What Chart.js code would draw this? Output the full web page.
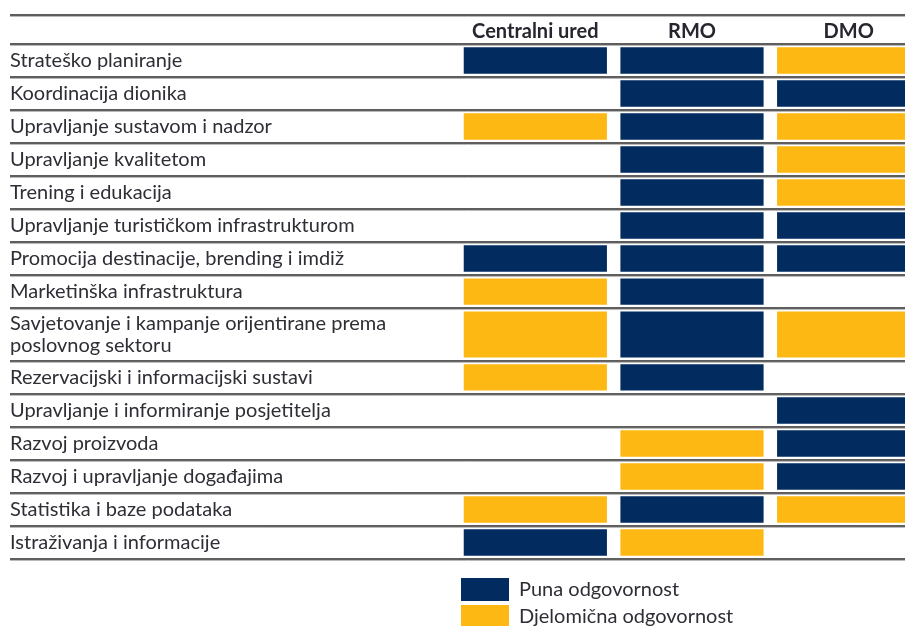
<!DOCTYPE html>
<html>
<head>
<meta charset="utf-8">
<script src="https://cdn.jsdelivr.net/npm/chart.js@4"></script>
<style>
  body { margin: 0; overflow: hidden; background: #fff; }
  #wrap { width: 927px; height: 638px; }
</style>
</head>
<body>
<div id="wrap"><canvas id="graf"></canvas></div>
<script>
// P = puna odgovornost, D = djelomicna odgovornost, null = nista
const columns = ['Centralni ured', 'RMO', 'DMO'];
const activities = [
    'Strateško planiranje',
    'Koordinacija dionika',
    'Upravljanje sustavom i nadzor',
    'Upravljanje kvalitetom',
    'Trening i edukacija',
    'Upravljanje turističkom infrastrukturom',
    'Promocija destinacije, brending i imdiž',
    'Marketinška infrastruktura',
    ['Savjetovanje i kampanje orijentirane prema', 'poslovnog sektoru'],
    'Rezervacijski i informacijski sustavi',
    'Upravljanje i informiranje posjetitelja',
    'Razvoj proizvoda',
    'Razvoj i upravljanje događajima',
    'Statistika i baze podataka',
    'Istraživanja i informacije'
];
const centralni = ['P', null, 'D', null, null, null, 'P', 'D', 'D', 'D', null, null, null, 'D', 'P'];
const rmo       = ['P', 'P', 'P', 'P', 'P', 'P', 'P', 'P', 'P', 'P', null, 'D', 'D', 'P', 'D'];
const dmo       = ['D', 'P', 'D', 'D', 'D', 'P', 'P', null, 'D', null, 'P', 'P', 'P', 'D', null];
const legendNames = { P: 'Puna odgovornost', D: 'Djelomična odgovornost' };

const navy = '#022b5f';
const yellow = '#fdb813';
const textColor = '#2e2e36';
const gap = 0.1;        // razmak celije od linije
const tailSpace = 0.455; // prostor do legende

// granice redova (dvoredni naziv = visi red)
const bounds = [0];
activities.forEach(function (a) {
    bounds.push(bounds[bounds.length - 1] + (Array.isArray(a) ? 1.6 : 1));
});
const total = bounds[bounds.length - 1];

function cells(type) {
    const out = [];
    [centralni, rmo, dmo].forEach(function (col, c) {
        col.forEach(function (v, i) {
            if (v === type) out.push({ x: columns[c], y: [bounds[i] + gap, bounds[i + 1] - gap] });
        });
    });
    return out;
}

const rowLines = {
    id: 'rowLines',
    beforeDatasetsDraw(chart) {
        const ctx = chart.ctx;
        const y = chart.scales.y;
        const ys = [chart.scales.x.top - 5].concat(bounds.map(function (b) { return y.getPixelForValue(b); }));
        ctx.save();
        ys.forEach(function (p) {
            ctx.beginPath();
            ctx.lineWidth = 2;
            ctx.strokeStyle = '#5e5e5e';
            ctx.moveTo(10, p);
            ctx.lineTo(chart.width, p);
            ctx.stroke();
            ctx.beginPath();
            ctx.lineWidth = 1;
            ctx.strokeStyle = '#b8b8b8';
            ctx.moveTo(10, p + 1.5);
            ctx.lineTo(chart.width, p + 1.5);
            ctx.stroke();
        });
        ctx.restore();
    }
};

new Chart(document.getElementById('graf'), {
    type: 'bar',
    data: {
        labels: columns,
        datasets: [{
            label: legendNames.P,
            data: cells('P'),
            backgroundColor: navy
        }, {
            label: legendNames.D,
            data: cells('D'),
            backgroundColor: yellow
        }]
    },
    options: {
        responsive: true,
        maintainAspectRatio: false,
        animation: false,
        grouped: false,
        barPercentage: 0.914,
        categoryPercentage: 1,
        layout: { padding: { top: 20, left: 10, right: 0, bottom: 0 } },
        scales: {
            x: {
                type: 'category',
                position: 'top',
                grid: { display: false, drawTicks: false },
                border: { display: false },
                ticks: {
                    padding: 0,
                    color: '#26262e',
                    font: { family: 'Lato', size: 20, weight: 'bold' }
                },
                afterFit: function (s) { s.height = 24; }
            },
            y: {
                type: 'linear',
                reverse: true,
                min: 0,
                max: total + tailSpace,
                grid: { display: false, drawTicks: false },
                border: { display: false },
                afterBuildTicks: function (s) {
                    s.ticks = activities.map(function (a, i) {
                        return { value: (bounds[i] + bounds[i + 1]) / 2 };
                    });
                },
                ticks: {
                    crossAlign: 'far',
                    autoSkip: false,
                    color: textColor,
                    font: { family: 'Lato', size: 20, lineHeight: 1.1 },
                    callback: function (v, i) { return activities[i]; }
                },
                afterFit: function (s) { s.width = 447; }
            }
        },
        plugins: {
            legend: {
                position: 'bottom',
                align: 'start',
                fullSize: false,
                labels: {
                    boxWidth: 48,
                    boxHeight: 23,
                    padding: 4,
                    color: textColor,
                    font: { family: 'Lato', size: 20 }
                }
            },
            tooltip: { enabled: false }
        }
    },
    plugins: [rowLines]
});
</script>
</body>
</html>
